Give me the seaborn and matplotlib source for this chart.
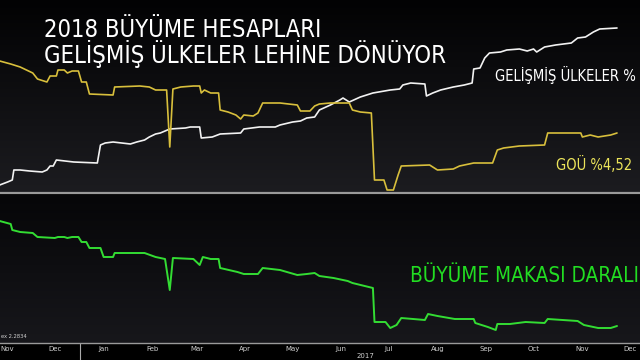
import numpy as np
import pandas as pd
import matplotlib
matplotlib.use("Agg")
import matplotlib.pyplot as plt
from matplotlib.colors import LinearSegmentedColormap
from matplotlib.lines import Line2D
import matplotlib.transforms as mtransforms
from matplotlib import font_manager as fm
import seaborn as sns

# ---------------- data ----------------
goü_dates = ["2016-11-11", "2016-11-18", "2016-11-24", "2016-11-28", "2016-12-02", "2016-12-05",
             "2016-12-11", "2016-12-13", "2016-12-17", "2016-12-18", "2016-12-22", "2016-12-24",
             "2016-12-27", "2016-12-31", "2017-01-02", "2017-01-05", "2017-01-07", "2017-01-22",
             "2017-01-23", "2017-02-08", "2017-02-14", "2017-02-18", "2017-02-25", "2017-02-27",
             "2017-03-01", "2017-03-06", "2017-03-14", "2017-03-18", "2017-03-19", "2017-03-21",
             "2017-03-25", "2017-03-30", "2017-03-31", "2017-04-05", "2017-04-10", "2017-04-13",
             "2017-04-15", "2017-04-21", "2017-04-24", "2017-04-27", "2017-05-08", "2017-05-19",
             "2017-05-21", "2017-05-27", "2017-05-30", "2017-06-02", "2017-06-09", "2017-06-21",
             "2017-06-23", "2017-06-28", "2017-07-05", "2017-07-07", "2017-07-13", "2017-07-15",
             "2017-07-19", "2017-07-22", "2017-07-24", "2017-08-11", "2017-08-16", "2017-08-26",
             "2017-08-30", "2017-09-08", "2017-09-20", "2017-09-23", "2017-09-27", "2017-10-07",
             "2017-10-23", "2017-10-25", "2017-11-15", "2017-11-16", "2017-11-21", "2017-11-26",
             "2017-12-04", "2017-12-08"]
goü_values = [4.880, 4.865, 4.850, 4.835, 4.820, 4.790, 4.775, 4.805, 4.805, 4.835, 4.835, 4.820,
              4.830, 4.830, 4.775, 4.775, 4.715, 4.710, 4.750, 4.755, 4.750, 4.735, 4.735, 4.450,
              4.740, 4.750, 4.755, 4.755, 4.720, 4.735, 4.720, 4.720, 4.635, 4.625, 4.610, 4.590,
              4.610, 4.605, 4.620, 4.670, 4.670, 4.660, 4.630, 4.630, 4.655, 4.665, 4.670, 4.670,
              4.635, 4.625, 4.620, 4.285, 4.285, 4.235, 4.235, 4.310, 4.355, 4.360, 4.335, 4.340,
              4.355, 4.370, 4.370, 4.435, 4.445, 4.455, 4.460, 4.520, 4.520, 4.500, 4.510, 4.500,
              4.510, 4.520]

dev_dates = ["2016-11-11", "2016-11-16", "2016-11-19", "2016-11-20", "2016-11-24", "2016-11-30",
             "2016-12-08", "2016-12-11", "2016-12-13", "2016-12-15", "2016-12-17", "2016-12-28",
             "2017-01-12", "2017-01-14", "2017-01-17", "2017-01-22", "2017-02-02", "2017-02-06",
             "2017-02-11", "2017-02-14", "2017-02-18", "2017-02-21", "2017-02-27", "2017-03-09",
             "2017-03-12", "2017-03-18", "2017-03-19", "2017-03-26", "2017-03-31", "2017-04-13",
             "2017-04-15", "2017-04-25", "2017-05-05", "2017-05-08", "2017-05-16", "2017-05-21",
             "2017-05-25", "2017-05-30", "2017-06-02", "2017-06-09", "2017-06-15", "2017-06-17",
             "2017-06-21", "2017-06-28", "2017-07-06", "2017-07-17", "2017-07-23", "2017-07-25",
             "2017-07-30", "2017-08-08", "2017-08-09", "2017-08-13", "2017-08-18", "2017-08-26",
             "2017-09-02", "2017-09-07", "2017-09-08", "2017-09-12", "2017-09-15", "2017-09-18",
             "2017-09-25", "2017-09-29", "2017-10-07", "2017-10-12", "2017-10-16", "2017-10-18",
             "2017-10-23", "2017-10-30", "2017-11-09", "2017-11-13", "2017-11-18", "2017-11-23",
             "2017-11-27", "2017-12-08"]
dev_values = [1.609, 1.621, 1.629, 1.669, 1.669, 1.665, 1.661, 1.669, 1.685, 1.685, 1.709, 1.701,
              1.697, 1.769, 1.777, 1.781, 1.773, 1.781, 1.789, 1.801, 1.813, 1.817, 1.833, 1.837,
              1.841, 1.841, 1.797, 1.801, 1.813, 1.817, 1.833, 1.841, 1.841, 1.849, 1.861, 1.865,
              1.877, 1.881, 1.909, 1.929, 1.949, 1.957, 1.941, 1.961, 1.977, 1.989, 1.993, 2.009,
              2.017, 2.013, 1.965, 1.977, 1.989, 2.001, 2.009, 2.017, 2.073, 2.077, 2.117, 2.137,
              2.141, 2.149, 2.153, 2.145, 2.153, 2.141, 2.161, 2.169, 2.177, 2.197, 2.201, 2.221,
              2.233, 2.237]

spread_dates = ["2016-11-11", "2016-11-18", "2016-11-19", "2016-11-24", "2016-12-02", "2016-12-05",
                "2016-12-16", "2016-12-18", "2016-12-22", "2016-12-24", "2016-12-27", "2016-12-31",
                "2017-01-02", "2017-01-05", "2017-01-07", "2017-01-14", "2017-01-16", "2017-01-22",
                "2017-01-23", "2017-02-11", "2017-02-18", "2017-02-24", "2017-02-27", "2017-03-01",
                "2017-03-14", "2017-03-18", "2017-03-20", "2017-03-25", "2017-03-30", "2017-03-31",
                "2017-04-11", "2017-04-15", "2017-04-24", "2017-04-27", "2017-05-08", "2017-05-19",
                "2017-05-25", "2017-05-30", "2017-06-02", "2017-06-11", "2017-06-20", "2017-06-23",
                "2017-07-06", "2017-07-07", "2017-07-14", "2017-07-17", "2017-07-21", "2017-07-24",
                "2017-08-08", "2017-08-10", "2017-08-16", "2017-08-27", "2017-09-08", "2017-09-09",
                "2017-09-17", "2017-09-22", "2017-09-23", "2017-10-01", "2017-10-11", "2017-10-23",
                "2017-10-25", "2017-11-13", "2017-11-17", "2017-11-26", "2017-12-04", "2017-12-08"]
spread_values = [3.333, 3.303, 3.243, 3.223, 3.213, 3.173, 3.163, 3.173, 3.173, 3.163, 3.173, 3.173,
                 3.123, 3.123, 3.063, 3.063, 2.973, 2.973, 3.013, 3.013, 2.973, 2.953, 2.643, 2.963,
                 2.953, 2.893, 2.973, 2.953, 2.953, 2.863, 2.823, 2.803, 2.803, 2.863, 2.843, 2.793,
                 2.803, 2.813, 2.783, 2.763, 2.733, 2.713, 2.663, 2.323, 2.323, 2.263, 2.293, 2.363,
                 2.343, 2.403, 2.383, 2.353, 2.353, 2.313, 2.273, 2.243, 2.303, 2.303, 2.323, 2.313,
                 2.353, 2.333, 2.293, 2.263, 2.263, 2.283]

month_labels = ["Nov", "Dec", "Jan", "Feb", "Mar", "Apr", "May", "Jun", "Jul", "Aug", "Sep", "Oct", "Nov", "Dec"]
year_label = "2017"
title_lines = ["2018 BÜYÜME HESAPLARI", "GELİŞMİŞ ÜLKELER LEHİNE DÖNÜYOR"]
dev_label = "GELİŞMİŞ ÜLKELER %"
goü_label = "GOÜ %4,52"
spread_label = "BÜYÜME MAKASI DARALI"
index_label = "ex 2.2834"

# ---------------- styling ----------------
sns.set_style("dark")


def pick_font():
    cands = [("Liberation Sans Narrow", "normal"), ("DejaVu Sans", "condensed"),
             ("Roboto Condensed", "normal"), ("Open Sans Condensed", "normal"), ("Roboto", "normal")]
    for fam, st in cands:
        try:
            path = fm.findfont(fm.FontProperties(family=fam, stretch=st), fallback_to_default=False)
        except Exception:
            continue
        if st == "condensed" and "ondensed" not in path:
            continue
        return fam, st
    return "DejaVu Sans", "normal"


FAM, STRETCH = pick_font()
plt.rcParams["font.family"] = [FAM, "DejaVu Sans"]

W, H = 640, 360
fig = plt.figure(figsize=(6.4, 3.6), dpi=100, facecolor="black")


def fy(py):
    return 1 - py / H


ax_top = fig.add_axes([0, fy(193), 1, 193 / H])
ax_bot = fig.add_axes([0, fy(343), 1, (343 - 195) / H])
ax_top2 = ax_top.twinx()


def gradient(ax, c_top, c_bottom):
    cmap = LinearSegmentedColormap.from_list("g", [c_bottom, c_top])
    ax.imshow(np.linspace(0, 1, 256).reshape(-1, 1), cmap=cmap, origin="lower",
              extent=[0, 1, 0, 1], transform=ax.transAxes, aspect="auto", zorder=0)


gradient(ax_top, "#020203", "#1c1c20")
gradient(ax_bot, "#060608", "#17171b")

df_goü = pd.DataFrame({"date": pd.to_datetime(goü_dates), "val": goü_values})
df_dev = pd.DataFrame({"date": pd.to_datetime(dev_dates), "val": dev_values})
df_spr = pd.DataFrame({"date": pd.to_datetime(spread_dates), "val": spread_values})

sns.lineplot(data=df_dev, x="date", y="val", ax=ax_top, color="#f2f2f2", lw=1.2, zorder=3)
sns.lineplot(data=df_goü, x="date", y="val", ax=ax_top2, color="#d8bf3c", lw=1.2, zorder=3)
sns.lineplot(data=df_spr, x="date", y="val", ax=ax_bot, color="#33dd33", lw=1.4, zorder=3)

# ticks first (set_xticks can widen limits), limits afterwards
month_starts = pd.date_range("2016-11-01", "2018-01-01", freq="MS")
mids = [m + pd.Timedelta(days=15) for m in month_starts[:-1]]
ax_bot.set_xticks(mids)
ax_bot.set_xticklabels(month_labels[:len(mids)], family="DejaVu Sans")
ax_bot.set_xticks(month_starts, minor=True)
ax_bot.tick_params(axis="x", which="major", length=0, pad=2, labelsize=5, labelcolor="#d0d0d0")
ax_bot.tick_params(axis="x", which="minor", length=3, width=0.8, direction="inout", color="#bbbbbb")
ax_top.set_xticks([])
ax_top2.set_xticks([])

base = pd.Timestamp("2017-01-01")
x0 = base + pd.Timedelta(days=-50.8)
x1 = base + pd.Timedelta(days=355.6)
for ax in (ax_top, ax_top2, ax_bot):
    ax.set_xlim(x0, x1)
    ax.set_xlabel("")
    ax.set_ylabel("")
    ax.set_yticks([])
    ax.grid(False)
    for s in ax.spines.values():
        s.set_visible(False)

ax_top.set_ylim(1.577, 2.349)
ax_top2.set_ylim(4.22, 5.185)
ax_bot.set_ylim(2.113, 3.593)
ax_top.set_facecolor("black")
ax_bot.set_facecolor("black")

ax_top.spines["bottom"].set_visible(True)
ax_top.spines["bottom"].set_color("#9a9a9a")
ax_top.spines["bottom"].set_linewidth(1.6)
ax_bot.spines["bottom"].set_visible(True)
ax_bot.spines["bottom"].set_color("#9a9a9a")
ax_bot.spines["bottom"].set_linewidth(1.0)

# year divider and label
trans = mtransforms.blended_transform_factory(ax_bot.transData, fig.transFigure)
jan1 = pd.Timestamp("2017-01-01")
ax_bot.add_line(Line2D([jan1, jan1], [fy(343), 0], transform=trans, color="#aaaaaa",
                       lw=0.8, clip_on=False))
fig.text(365 / W, fy(356.5), year_label, fontsize=5, color="#d0d0d0", ha="center", va="center",
         family="DejaVu Sans")

# annotations, sized so that their widths match the reference
renderer = fig.canvas.get_renderer()


def fit_text(x_px, base_px, s, width_px, color, ha="left"):
    t = fig.text(x_px / W, fy(base_px), s, fontsize=10, color=color, ha=ha, va="baseline",
                 family=[FAM, "DejaVu Sans"], fontstretch=STRETCH)
    w = t.get_window_extent(renderer).width
    t.set_fontsize(10 * width_px / w)
    return t


fit_text(44, 37, title_lines[0], 276, "white")
fit_text(44, 63, title_lines[1], 401, "white")
fit_text(495, 81, dev_label, 142, "white")
fit_text(556, 170, goü_label, 76, "#ece45a")
fit_text(410, 282, spread_label, 228, "#22dd22")
fit_text(1, 338, index_label, 26, "#cfcfcf")

fig.savefig("out.png", dpi=100, facecolor="black")
